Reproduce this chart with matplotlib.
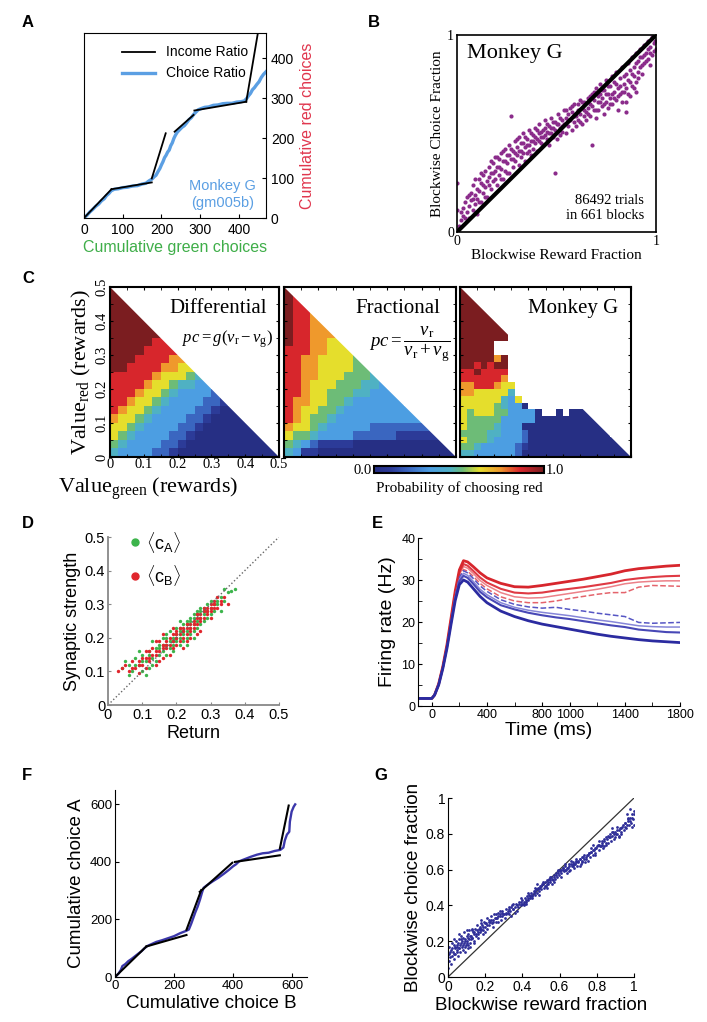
import numpy as np
import matplotlib.pyplot as plt
from matplotlib.colors import LinearSegmentedColormap, Normalize
from matplotlib.cm import ScalarMappable
from matplotlib.patches import Polygon

plt.rcParams['font.family'] = ['Liberation Sans', 'DejaVu Sans']
plt.rcParams['mathtext.fontset'] = 'custom'
plt.rcParams['mathtext.rm'] = 'Liberation Serif'
plt.rcParams['mathtext.it'] = 'Liberation Serif:italic'
plt.rcParams['mathtext.sf'] = 'Liberation Sans'
SERIF = 'Liberation Serif'

# ---------------- data ----------------
# A: income ratio segments (x pairs, y pairs) and choice ratio trace
a_income_x = [[0, 71], [71, 175], [175, 211], [234, 283], [285, 419], [419, 452]]
a_income_y = [[0, 72], [72, 89], [99, 212], [216, 258], [269, 291], [291, 480]]
a_choice = [(0, 0), (8, 7), (15, 15), (22, 21), (30, 29), (38, 35), (45, 43), (52, 48),
            (58, 56), (64, 61), (70, 68), (78, 72), (88, 73), (100, 76), (112, 77),
            (125, 80), (138, 81), (150, 85), (160, 87), (168, 93), (175, 97), (181, 103),
            (186, 107), (191, 116), (196, 124), (200, 133), (204, 141), (208, 151),
            (212, 157), (216, 165), (220, 170), (224, 181), (228, 188), (232, 199),
            (236, 207), (241, 215), (247, 221), (253, 227), (259, 231), (265, 238),
            (271, 246), (277, 251), (283, 259), (289, 265), (295, 271), (303, 274),
            (312, 277), (322, 278), (334, 282), (346, 283), (358, 286), (370, 287),
            (382, 287), (394, 290), (405, 291), (414, 293), (420, 299), (425, 306),
            (430, 312), (435, 321), (440, 326), (446, 334), (452, 341), (458, 352),
            (464, 360), (470, 366)]

# B: blockwise reward fraction vs choice fraction (Monkey G)
b_points = [
    (0.00, 0.11), (0.00, 0.25), (0.01, 0.03), (0.02, 0.06), (0.03, 0.12), (0.03, 0.08),
    (0.04, 0.15), (0.05, 0.10), (0.05, 0.18), (0.06, 0.07), (0.06, 0.13), (0.07, 0.20),
    (0.07, 0.16), (0.08, 0.11), (0.08, 0.24), (0.09, 0.19), (0.09, 0.14), (0.10, 0.22),
    (0.10, 0.17), (0.10, 0.09), (0.11, 0.27), (0.11, 0.21), (0.12, 0.25), (0.12, 0.15),
    (0.13, 0.29), (0.13, 0.20), (0.14, 0.23), (0.14, 0.31), (0.15, 0.18), (0.15, 0.26),
    (0.16, 0.28), (0.16, 0.33), (0.17, 0.22), (0.17, 0.30), (0.18, 0.35), (0.18, 0.26),
    (0.19, 0.31), (0.19, 0.38), (0.20, 0.24), (0.20, 0.33), (0.21, 0.29), (0.21, 0.37),
    (0.22, 0.40), (0.22, 0.32), (0.23, 0.27), (0.23, 0.36), (0.24, 0.42), (0.24, 0.31),
    (0.25, 0.35), (0.25, 0.39), (0.26, 0.30), (0.26, 0.44), (0.27, 0.37), (0.27, 0.59),
    (0.28, 0.33), (0.28, 0.41), (0.29, 0.46), (0.29, 0.36), (0.30, 0.39), (0.30, 0.43),
    (0.31, 0.34), (0.31, 0.48), (0.32, 0.41), (0.32, 0.38), (0.33, 0.45), (0.33, 0.50),
    (0.34, 0.36), (0.34, 0.43), (0.35, 0.47), (0.35, 0.40), (0.36, 0.44), (0.36, 0.52),
    (0.37, 0.39), (0.37, 0.46), (0.38, 0.49), (0.38, 0.42), (0.39, 0.53), (0.39, 0.45),
    (0.40, 0.47), (0.40, 0.41), (0.41, 0.50), (0.41, 0.55), (0.42, 0.45), (0.42, 0.48),
    (0.43, 0.52), (0.43, 0.44), (0.44, 0.49), (0.44, 0.57), (0.45, 0.47), (0.45, 0.51),
    (0.46, 0.54), (0.46, 0.44), (0.47, 0.50), (0.47, 0.58), (0.48, 0.48), (0.48, 0.53),
    (0.49, 0.30), (0.49, 0.56), (0.50, 0.51), (0.50, 0.47), (0.51, 0.55), (0.51, 0.60),
    (0.52, 0.49), (0.52, 0.53), (0.53, 0.57), (0.53, 0.51), (0.54, 0.62), (0.54, 0.55),
    (0.55, 0.50), (0.55, 0.58), (0.56, 0.60), (0.56, 0.54), (0.57, 0.63), (0.57, 0.57),
    (0.58, 0.52), (0.58, 0.61), (0.59, 0.56), (0.59, 0.65), (0.60, 0.59), (0.60, 0.54),
    (0.61, 0.62), (0.61, 0.57), (0.62, 0.67), (0.62, 0.60), (0.63, 0.55), (0.63, 0.63),
    (0.64, 0.59), (0.64, 0.66), (0.65, 0.61), (0.65, 0.57), (0.66, 0.68), (0.66, 0.63),
    (0.67, 0.59), (0.67, 0.65), (0.68, 0.44), (0.68, 0.70), (0.69, 0.62), (0.69, 0.67),
    (0.70, 0.58), (0.70, 0.73), (0.71, 0.66), (0.71, 0.62), (0.72, 0.70), (0.72, 0.75),
    (0.73, 0.64), (0.73, 0.68), (0.74, 0.60), (0.74, 0.72), (0.75, 0.66), (0.75, 0.77),
    (0.76, 0.70), (0.76, 0.63), (0.77, 0.74), (0.77, 0.68), (0.78, 0.79), (0.78, 0.65),
    (0.79, 0.71), (0.79, 0.76), (0.80, 0.67), (0.80, 0.81), (0.81, 0.73), (0.81, 0.62),
    (0.82, 0.78), (0.82, 0.70), (0.83, 0.84), (0.83, 0.66), (0.84, 0.75), (0.84, 0.71),
    (0.85, 0.61), (0.85, 0.80), (0.86, 0.77), (0.86, 0.86), (0.87, 0.69), (0.87, 0.82),
    (0.88, 0.74), (0.88, 0.89), (0.89, 0.79), (0.89, 0.84), (0.90, 0.76), (0.90, 0.91),
    (0.91, 0.81), (0.91, 0.87), (0.92, 0.93), (0.92, 0.84), (0.93, 0.89), (0.93, 0.80),
    (0.94, 0.95), (0.94, 0.86), (0.95, 0.91), (0.96, 0.97), (0.96, 0.88), (0.97, 0.94),
    (0.98, 0.99), (0.98, 0.90), (0.99, 0.96), (1.00, 0.93),
    (0.02, 0.10), (0.04, 0.07), (0.06, 0.19), (0.08, 0.17), (0.09, 0.27), (0.11, 0.15),
    (0.12, 0.30), (0.13, 0.24), (0.14, 0.18), (0.16, 0.24), (0.17, 0.36), (0.18, 0.30),
    (0.19, 0.27), (0.20, 0.38), (0.21, 0.33), (0.22, 0.27), (0.23, 0.41), (0.24, 0.36),
    (0.25, 0.30), (0.26, 0.39), (0.27, 0.42), (0.28, 0.37), (0.29, 0.40), (0.30, 0.47),
    (0.31, 0.41), (0.32, 0.45), (0.33, 0.40), (0.34, 0.48), (0.35, 0.44), (0.36, 0.41),
    (0.37, 0.50), (0.38, 0.46), (0.39, 0.48), (0.40, 0.52), (0.41, 0.46), (0.42, 0.51),
    (0.43, 0.48), (0.44, 0.53), (0.45, 0.55), (0.46, 0.50), (0.47, 0.53), (0.48, 0.56),
    (0.49, 0.52), (0.50, 0.55), (0.52, 0.58), (0.53, 0.54), (0.55, 0.62), (0.56, 0.57),
    (0.58, 0.64), (0.59, 0.59), (0.61, 0.65), (0.62, 0.56), (0.63, 0.66), (0.64, 0.62),
    (0.66, 0.60), (0.67, 0.69), (0.68, 0.64), (0.69, 0.71), (0.70, 0.62), (0.71, 0.69),
    (0.72, 0.66), (0.73, 0.72), (0.74, 0.65), (0.75, 0.70), (0.76, 0.74), (0.77, 0.65),
    (0.78, 0.70), (0.79, 0.68), (0.80, 0.75), (0.81, 0.69), (0.82, 0.74), (0.83, 0.71),
    (0.84, 0.79), (0.85, 0.73), (0.86, 0.70), (0.87, 0.76), (0.88, 0.80), (0.89, 0.73),
    (0.90, 0.86), (0.91, 0.78), (0.92, 0.89), (0.93, 0.85), (0.94, 0.90), (0.95, 0.87),
    (0.96, 0.93), (0.97, 0.91), (0.99, 0.92), (0.995, 0.97), (0.97, 0.85), (0.90, 0.71),
    (0.85, 0.66)]

# C: choice probability grids, one digit per cell (index into c_levels), '.' = no data
c_levels = [0.0, 0.1, 0.2, 0.33, 0.45, 0.52, 0.62, 0.74, 0.86, 1.0]
c_differential = [
    "9", "99", "999", "9999", "99999", "999999", "9999988", "99998888",
    "999888877", "9988887766", "88888766654", "888876654433", "8887665433332",
    "88766543333221", "876654333322100", "7665433332210000", "66543333221000000",
    "654333322100000000", "5433332210000000000", "43333221000000000000"]
c_fractional = [
    "9", "98", "988", "9887", "98877", "988777", "9887766", "88877666",
    "887766665", "8877666655", "88776665554", "887666555443", "8876655544333",
    "87766554333333", "876655433333333", "8765543333333333", "76654333332222222",
    "655433332222211111", "5432111100000000000", "43110000000000000000"]
c_monkey = [
    "9", "99", "999", "9999", "99999", "999999", "9999999", "9999999.",
    "99999....", "99999.....", "9999979....", "9989899.....", "8898888......",
    "8888887.......", "77888766.......", "77666664........", "666666436........",
    "6666654330........", "656665533330..0.000", "65555533333000000000",
    "655554333000000000000", "5555443332000000000000", "65554333320000000000000",
    "554333332100000000000000", "4433333320000000000000000"]

# D: return vs synaptic strength
d_green = [
    (0.04, 0.11), (0.06, 0.12), (0.07, 0.10), (0.08, 0.14), (0.09, 0.12), (0.10, 0.10),
    (0.10, 0.15), (0.11, 0.13), (0.12, 0.16), (0.12, 0.11), (0.13, 0.14), (0.14, 0.17),
    (0.14, 0.13), (0.15, 0.18), (0.15, 0.15), (0.16, 0.20), (0.16, 0.16), (0.17, 0.18),
    (0.17, 0.15), (0.18, 0.19), (0.18, 0.22), (0.18, 0.17), (0.19, 0.20), (0.19, 0.18),
    (0.20, 0.21), (0.20, 0.19), (0.20, 0.23), (0.21, 0.20), (0.21, 0.22), (0.21, 0.18),
    (0.22, 0.21), (0.22, 0.24), (0.22, 0.19), (0.23, 0.22), (0.23, 0.20), (0.23, 0.25),
    (0.24, 0.23), (0.24, 0.21), (0.24, 0.26), (0.25, 0.24), (0.25, 0.22), (0.25, 0.27),
    (0.26, 0.25), (0.26, 0.23), (0.26, 0.28), (0.27, 0.26), (0.27, 0.24), (0.28, 0.27),
    (0.28, 0.25), (0.28, 0.29), (0.29, 0.28), (0.29, 0.26), (0.30, 0.29), (0.30, 0.27),
    (0.31, 0.30), (0.31, 0.28), (0.32, 0.30), (0.33, 0.28), (0.34, 0.31), (0.36, 0.34),
    (0.37, 0.345), (0.17, 0.21), (0.19, 0.16), (0.21, 0.25), (0.23, 0.18), (0.25, 0.20),
    (0.27, 0.29), (0.13, 0.19), (0.11, 0.09), (0.09, 0.16), (0.05, 0.13), (0.35, 0.335),
    (0.06, 0.09), (0.08, 0.12), (0.10, 0.13), (0.12, 0.15), (0.13, 0.12), (0.15, 0.17),
    (0.16, 0.18), (0.17, 0.20), (0.19, 0.19), (0.20, 0.20), (0.21, 0.23), (0.22, 0.22),
    (0.23, 0.24), (0.24, 0.25), (0.25, 0.26), (0.26, 0.27), (0.27, 0.28), (0.28, 0.28),
    (0.29, 0.30), (0.30, 0.31), (0.32, 0.31), (0.33, 0.32), (0.34, 0.345)]
d_red = [
    (0.03, 0.10), (0.05, 0.12), (0.07, 0.13), (0.08, 0.11), (0.09, 0.13), (0.10, 0.14),
    (0.10, 0.12), (0.11, 0.16), (0.12, 0.14), (0.12, 0.13), (0.13, 0.15), (0.13, 0.17),
    (0.14, 0.15), (0.14, 0.19), (0.15, 0.16), (0.15, 0.13), (0.16, 0.18), (0.16, 0.14),
    (0.17, 0.19), (0.17, 0.17), (0.18, 0.18), (0.18, 0.20), (0.19, 0.21), (0.19, 0.17),
    (0.20, 0.20), (0.20, 0.18), (0.20, 0.22), (0.21, 0.21), (0.21, 0.19), (0.22, 0.22),
    (0.22, 0.20), (0.22, 0.17), (0.23, 0.23), (0.23, 0.21), (0.24, 0.22), (0.24, 0.24),
    (0.24, 0.20), (0.25, 0.25), (0.25, 0.23), (0.26, 0.26), (0.26, 0.24), (0.26, 0.21),
    (0.27, 0.27), (0.27, 0.25), (0.28, 0.26), (0.28, 0.28), (0.29, 0.29), (0.29, 0.27),
    (0.30, 0.30), (0.30, 0.28), (0.30, 0.26), (0.31, 0.29), (0.31, 0.31), (0.32, 0.32),
    (0.32, 0.29), (0.33, 0.31), (0.35, 0.30), (0.06, 0.10), (0.11, 0.11), (0.16, 0.21),
    (0.18, 0.15), (0.23, 0.19), (0.09, 0.095), (0.14, 0.12), (0.27, 0.22), (0.19, 0.23),
    (0.04, 0.11), (0.07, 0.11), (0.09, 0.12), (0.11, 0.14), (0.12, 0.16), (0.14, 0.16),
    (0.15, 0.19), (0.16, 0.17), (0.17, 0.18), (0.19, 0.19), (0.20, 0.21), (0.21, 0.23),
    (0.22, 0.23), (0.23, 0.24), (0.24, 0.23), (0.25, 0.24), (0.26, 0.27), (0.27, 0.26),
    (0.28, 0.29), (0.29, 0.28), (0.30, 0.29), (0.31, 0.30), (0.33, 0.30), (0.34, 0.32)]

# E: firing rates (Hz) over time (ms)
e_time = [-100, 0, 20, 50, 80, 110, 140, 170, 200, 230, 260, 300, 350, 400, 500, 600,
          700, 800, 900, 1000, 1100, 1200, 1300, 1400, 1500, 1600, 1700, 1800]
e_red_thick = [1.8, 1.8, 2.6, 5.3, 9.4, 14.6, 21.0, 27.4, 32.4, 34.6, 34.3, 33.2, 31.7, 30.5,
               29.2, 28.4, 28.3, 28.7, 29.2, 29.7, 30.2, 30.8, 31.4, 32.2, 32.7, 33.0, 33.3, 33.5]
e_red_mid = [1.8, 1.8, 2.6, 5.3, 9.3, 14.4, 20.7, 27.0, 31.8, 33.8, 33.4, 32.2, 30.6, 29.4,
             27.9, 27.0, 26.8, 27.0, 27.5, 27.9, 28.3, 28.8, 29.3, 30.0, 30.4, 30.7, 30.9, 31.0]
e_red_light = [1.8, 1.8, 2.6, 5.2, 9.2, 14.3, 20.5, 26.7, 31.3, 33.2, 32.8, 31.6, 29.9, 28.7,
               27.0, 26.0, 25.7, 25.8, 26.3, 26.8, 27.3, 27.8, 28.4, 29.1, 29.5, 29.7, 29.8, 29.8]
e_red_dash = [1.8, 1.8, 2.6, 5.2, 9.2, 14.2, 20.3, 26.4, 30.8, 32.5, 32.1, 30.9, 29.2, 27.9,
              26.0, 25.0, 24.6, 24.6, 25.0, 25.6, 26.1, 26.6, 27.0, 27.0, 28.3, 28.7, 28.6, 28.5]
e_blue_dash = [1.8, 1.8, 2.6, 5.2, 9.1, 14.1, 20.2, 26.2, 30.6, 32.2, 31.7, 30.4, 28.6, 27.3,
               25.3, 24.2, 23.6, 23.3, 23.5, 23.0, 22.6, 22.1, 21.7, 21.3, 19.9, 19.7, 19.8, 19.9]
e_blue_light = [1.8, 1.8, 2.6, 5.1, 9.0, 14.0, 20.0, 25.9, 30.1, 31.6, 31.1, 29.7, 27.8, 26.5,
                24.6, 23.5, 22.8, 22.3, 21.9, 21.5, 21.0, 20.5, 20.1, 19.6, 19.1, 18.9, 18.8, 18.8]
e_blue_mid = [1.8, 1.8, 2.6, 5.1, 9.0, 13.9, 19.8, 25.6, 29.7, 31.0, 30.5, 29.1, 27.2, 25.9,
              24.0, 23.0, 22.2, 21.6, 21.1, 20.7, 20.2, 19.7, 19.2, 18.8, 18.2, 17.9, 17.6, 17.5]
e_blue_thick = [1.8, 1.8, 2.6, 5.0, 8.9, 13.7, 19.5, 25.1, 28.9, 30.0, 29.5, 28.0, 26.1, 24.6,
                22.6, 21.3, 20.3, 19.5, 18.9, 18.3, 17.7, 17.1, 16.6, 16.2, 15.8, 15.5, 15.3, 15.1]

# F: model cumulative choices
f_income_x = [[0, 106], [106, 242], [242, 292], [287, 397], [406, 558], [558, 588]]
f_income_y = [[0, 106], [106, 146], [164, 302], [296, 397], [400, 423], [446, 596]]
f_choice = [(0, 0), (12, 12), (20, 25), (25, 38), (35, 45), (45, 55), (55, 62), (65, 70),
            (75, 78), (90, 90), (100, 100), (110, 108), (125, 115), (140, 122), (160, 128),
            (180, 135), (200, 142), (220, 152), (240, 160), (250, 165), (258, 185),
            (265, 205), (272, 225), (280, 245), (288, 270), (295, 295), (300, 310),
            (310, 318), (330, 332), (350, 345), (370, 360), (385, 372), (400, 385),
            (410, 392), (420, 402), (440, 410), (460, 418), (480, 425), (500, 430),
            (520, 432), (540, 438), (560, 442), (570, 450), (575, 475), (582, 495),
            (590, 505), (592, 540), (598, 575), (605, 592), (610, 600)]

# G: model blockwise fractions
g_points = [
    (0.002, 0.05), (0.004, 0.13), (0.006, 0.09), (0.008, 0.17), (0.012, 0.11), (0.015, 0.07),
    (0.018, 0.15), (0.021, 0.19), (0.024, 0.12), (0.027, 0.14), (0.031, 0.18), (0.034, 0.10),
    (0.037, 0.16), (0.040, 0.13), (0.043, 0.20), (0.046, 0.15), (0.049, 0.17), (0.052, 0.12),
    (0.055, 0.19), (0.058, 0.16), (0.061, 0.21), (0.064, 0.14), (0.067, 0.18), (0.070, 0.23),
    (0.073, 0.17), (0.076, 0.20), (0.079, 0.15), (0.082, 0.22), (0.085, 0.19), (0.088, 0.25),
    (0.091, 0.17), (0.094, 0.21), (0.097, 0.18), (0.100, 0.23), (0.103, 0.20), (0.106, 0.16),
    (0.109, 0.24), (0.112, 0.21), (0.115, 0.26), (0.118, 0.19), (0.121, 0.23), (0.124, 0.21),
    (0.127, 0.27), (0.130, 0.22), (0.134, 0.25), (0.138, 0.20), (0.142, 0.24), (0.146, 0.27),
    (0.150, 0.23), (0.154, 0.26), (0.158, 0.29), (0.162, 0.24), (0.166, 0.27), (0.170, 0.25),
    (0.175, 0.30), (0.180, 0.27), (0.185, 0.29), (0.190, 0.26), (0.195, 0.31), (0.200, 0.28),
    (0.206, 0.30), (0.212, 0.33), (0.218, 0.29), (0.224, 0.31), (0.230, 0.34), (0.236, 0.30),
    (0.242, 0.32), (0.249, 0.35), (0.256, 0.31), (0.263, 0.33), (0.270, 0.36), (0.277, 0.34),
    (0.284, 0.32), (0.291, 0.37), (0.298, 0.35), (0.305, 0.33), (0.312, 0.38), (0.320, 0.36),
    (0.328, 0.39), (0.336, 0.37), (0.344, 0.40), (0.352, 0.38), (0.360, 0.36), (0.368, 0.41),
    (0.376, 0.39), (0.384, 0.42), (0.392, 0.40), (0.400, 0.43), (0.406, 0.41), (0.412, 0.44),
    (0.418, 0.42), (0.424, 0.45), (0.430, 0.43), (0.436, 0.46), (0.442, 0.44), (0.448, 0.47),
    (0.454, 0.45), (0.460, 0.48), (0.466, 0.46), (0.472, 0.49), (0.478, 0.47), (0.484, 0.50),
    (0.490, 0.48), (0.496, 0.51), (0.502, 0.49), (0.508, 0.52), (0.514, 0.50), (0.520, 0.53),
    (0.526, 0.51), (0.532, 0.54), (0.538, 0.52), (0.544, 0.55), (0.550, 0.53), (0.556, 0.56),
    (0.562, 0.54), (0.568, 0.57), (0.574, 0.55), (0.580, 0.58), (0.586, 0.56), (0.592, 0.59),
    (0.598, 0.57), (0.604, 0.60), (0.610, 0.58), (0.616, 0.61), (0.622, 0.59), (0.628, 0.62),
    (0.634, 0.60), (0.640, 0.58), (0.646, 0.61), (0.652, 0.63), (0.658, 0.60), (0.664, 0.62),
    (0.670, 0.64), (0.676, 0.61), (0.682, 0.63), (0.688, 0.65), (0.694, 0.62), (0.700, 0.64),
    (0.707, 0.66), (0.714, 0.63), (0.721, 0.65), (0.728, 0.67), (0.735, 0.64), (0.742, 0.66),
    (0.749, 0.68), (0.756, 0.69), (0.763, 0.67), (0.770, 0.70), (0.777, 0.68), (0.784, 0.71),
    (0.791, 0.69), (0.798, 0.72), (0.805, 0.74), (0.812, 0.71), (0.819, 0.73), (0.826, 0.75),
    (0.833, 0.72), (0.840, 0.76), (0.847, 0.74), (0.854, 0.77), (0.861, 0.75), (0.868, 0.78),
    (0.875, 0.76), (0.882, 0.79), (0.889, 0.81), (0.896, 0.78), (0.903, 0.80), (0.910, 0.82),
    (0.917, 0.79), (0.924, 0.83), (0.931, 0.81), (0.938, 0.84), (0.945, 0.82), (0.952, 0.86),
    (0.959, 0.83), (0.966, 0.87), (0.973, 0.85), (0.980, 0.89), (0.985, 0.86), (0.990, 0.91),
    (0.994, 0.88), (0.998, 0.93), (1.000, 0.85),
    (0.05, 0.14), (0.07, 0.21), (0.09, 0.14), (0.11, 0.18), (0.13, 0.26), (0.14, 0.19),
    (0.16, 0.22), (0.17, 0.28), (0.19, 0.24), (0.21, 0.27), (0.22, 0.32), (0.24, 0.28),
    (0.26, 0.35), (0.27, 0.31), (0.29, 0.34), (0.31, 0.35), (0.33, 0.35), (0.35, 0.41),
    (0.37, 0.37), (0.39, 0.44), (0.41, 0.40), (0.43, 0.47), (0.45, 0.44), (0.47, 0.50),
    (0.49, 0.46), (0.51, 0.53), (0.53, 0.50), (0.55, 0.56), (0.57, 0.53), (0.59, 0.60),
    (0.61, 0.56), (0.63, 0.63), (0.65, 0.59), (0.67, 0.62), (0.69, 0.66), (0.71, 0.62),
    (0.73, 0.68), (0.75, 0.65), (0.77, 0.72), (0.79, 0.68), (0.81, 0.76), (0.83, 0.74),
    (0.85, 0.75), (0.87, 0.80), (0.89, 0.77), (0.91, 0.84), (0.93, 0.80), (0.95, 0.84),
    (0.97, 0.89), (0.99, 0.84), (0.10, 0.26), (0.06, 0.24), (0.03, 0.21), (0.12, 0.17),
    (0.18, 0.32), (0.20, 0.25), (0.28, 0.37), (0.34, 0.34), (0.42, 0.41), (0.48, 0.52),
    (0.56, 0.52), (0.62, 0.61), (0.66, 0.65), (0.72, 0.64), (0.78, 0.74), (0.84, 0.73),
    (0.88, 0.83), (0.92, 0.78), (0.96, 0.91), (0.98, 0.94),
    (0.01, 0.14), (0.02, 0.16), (0.03, 0.13), (0.04, 0.17), (0.05, 0.18), (0.06, 0.16),
    (0.07, 0.19), (0.08, 0.18), (0.09, 0.20), (0.10, 0.19), (0.11, 0.22), (0.12, 0.23),
    (0.13, 0.22), (0.14, 0.25), (0.15, 0.24), (0.16, 0.25), (0.17, 0.27), (0.18, 0.26),
    (0.19, 0.28), (0.20, 0.30), (0.21, 0.29), (0.22, 0.31), (0.23, 0.32), (0.24, 0.31),
    (0.25, 0.33), (0.26, 0.33), (0.27, 0.34), (0.28, 0.35), (0.29, 0.36), (0.30, 0.35),
    (0.31, 0.36), (0.32, 0.37), (0.33, 0.38), (0.34, 0.39), (0.35, 0.38), (0.36, 0.39),
    (0.37, 0.40), (0.38, 0.41), (0.39, 0.42), (0.40, 0.41), (0.41, 0.42), (0.42, 0.43),
    (0.43, 0.44), (0.44, 0.45), (0.45, 0.46), (0.46, 0.47), (0.47, 0.48), (0.48, 0.49),
    (0.49, 0.50), (0.50, 0.51), (0.51, 0.52), (0.52, 0.51), (0.53, 0.52), (0.54, 0.53),
    (0.55, 0.54), (0.56, 0.55), (0.57, 0.56), (0.58, 0.57), (0.59, 0.58), (0.60, 0.59),
    (0.61, 0.60), (0.62, 0.60), (0.63, 0.60), (0.64, 0.61), (0.65, 0.62), (0.66, 0.63),
    (0.67, 0.63), (0.68, 0.63), (0.69, 0.64), (0.70, 0.65), (0.71, 0.66), (0.72, 0.67),
    (0.73, 0.66), (0.74, 0.67), (0.75, 0.68), (0.76, 0.69), (0.77, 0.70), (0.78, 0.71),
    (0.79, 0.72), (0.80, 0.73), (0.81, 0.74), (0.82, 0.73), (0.83, 0.76), (0.84, 0.77),
    (0.85, 0.78), (0.86, 0.79), (0.87, 0.78), (0.88, 0.81), (0.89, 0.80), (0.90, 0.81),
    (0.91, 0.80), (0.92, 0.82), (0.93, 0.83), (0.94, 0.85), (0.95, 0.86), (0.96, 0.85),
    (0.97, 0.88), (0.98, 0.87), (0.99, 0.89), (1.00, 0.91)]

# ---------------- figure ----------------
W, H = 707, 1022
fig = plt.figure(figsize=(W / 100, H / 100), dpi=100)


def rect(x0, y0, x1, y1):
    return [x0 / W, 1 - y1 / H, (x1 - x0) / W, (y1 - y0) / H]


def label(x, y, s):
    fig.text(x / W, 1 - y / H, s, fontsize=12, fontweight='bold', va='center', ha='left')


# ---- A ----
ax = fig.add_axes(rect(84, 33, 266, 218))
cx, cy = np.array(a_choice).T
ax.plot(cx, cy, color='#5b9fe3', lw=2.4, label='Choice Ratio', zorder=2)
for k, (xs, ys) in enumerate(zip(a_income_x, a_income_y)):
    ax.plot(xs, ys, color='black', lw=1.3, zorder=3, label='Income Ratio' if k == 0 else None)
ax.set_xlim(0, 470)
ax.set_ylim(0, 463)
ax.set_xticks([0, 100, 200, 300, 400])
ax.set_yticks([0, 100, 200, 300, 400])
ax.yaxis.tick_right()
ax.yaxis.set_label_position('right')
ax.tick_params(direction='in', labelsize=10, length=3)
ax.set_xlabel('Cumulative green choices', color='#3fae49', fontsize=11.5, labelpad=2)
ax.set_ylabel('Cumulative red choices', color='#e0364d', fontsize=11.5, labelpad=4)
h, l = ax.get_legend_handles_labels()
ax.legend(h[::-1], l[::-1], loc='upper left', bbox_to_anchor=(0.14, 1.0), frameon=False,
          fontsize=10, handlelength=2.4, labelspacing=0.5)
ax.text(0.945, 0.045, 'Monkey G\n(gm005b)', transform=ax.transAxes, ha='right', va='bottom',
        color='#5b9fe3', fontsize=10.5, multialignment='center')
label(22, 22, 'A')

# ---- B ----
ax = fig.add_axes(rect(457, 35, 656, 232))
bx, by = np.array(b_points).T
ax.scatter(bx, by, s=9, color='#8b2c8b', linewidths=0, zorder=2)
ax.plot([0, 1], [0, 1], color='black', lw=3, zorder=3)
ax.set_xlim(0, 1)
ax.set_ylim(0, 1)
ax.set_xticks([0, 1])
ax.set_yticks([0, 1])
ax.tick_params(length=0, labelsize=10, pad=2)
for t in ax.get_xticklabels() + ax.get_yticklabels():
    t.set_fontfamily(SERIF)
ax.set_xlabel('Blockwise Reward Fraction', fontfamily=SERIF, fontsize=11, labelpad=1)
ax.set_ylabel('Blockwise Choice Fraction', fontfamily=SERIF, fontsize=11, labelpad=2)
for s in ax.spines.values():
    s.set_linewidth(1.2)
ax.text(0.05, 0.955, 'Monkey G', transform=ax.transAxes, ha='left', va='top',
        fontfamily=SERIF, fontsize=16)
ax.text(0.94, 0.05, '86492 trials\nin 661 blocks', transform=ax.transAxes, ha='right',
        va='bottom', fontfamily=SERIF, fontsize=10.5, multialignment='right')
label(368, 22, 'B')

# ---- C ----
cmap = LinearSegmentedColormap.from_list('choice', [
    (0.00, '#262f84'), (0.10, '#2c3b98'), (0.20, '#3a66c0'), (0.33, '#4c9ee2'),
    (0.45, '#4fb1c4'), (0.52, '#6bbb78'), (0.62, '#e5de2c'), (0.74, '#ef9a2c'),
    (0.86, '#d9262c'), (1.00, '#7b1d20')])


def draw_grid(ax, rows):
    n = len(rows)
    edges = np.linspace(0, 0.5, n + 1)
    z = np.full((n, n), np.nan)
    for k, row in enumerate(rows):
        i = n - 1 - k
        for j, ch in enumerate(row):
            if ch != '.':
                z[i, j] = c_levels[int(ch)]
    mesh = ax.pcolormesh(edges, edges, np.ma.masked_invalid(z), cmap=cmap, vmin=0, vmax=1,
                         shading='flat', antialiased=False, linewidth=0)
    tri = Polygon([(0, 0), (0.5, 0), (0, 0.5)], closed=True, transform=ax.transData)
    mesh.set_clip_path(tri)


c_panels = [(110, 279, c_differential), (284, 456, c_fractional), (460, 631, c_monkey)]
c_axes = []
for x0, x1, rows in c_panels:
    ax = fig.add_axes(rect(x0, 287, x1, 457))
    draw_grid(ax, rows)
    ax.set_xlim(0, 0.5)
    ax.set_ylim(0, 0.5)
    ax.set_xticks(np.arange(0, 0.51, 0.1))
    ax.set_yticks(np.arange(0, 0.51, 0.1))
    ax.set_xticks(np.arange(0.05, 0.5, 0.1), minor=True)
    ax.set_yticks(np.arange(0.05, 0.5, 0.1), minor=True)
    ax.tick_params(which='both', direction='in', length=2.5, top=True, right=True,
                   labelbottom=False, labelleft=False)
    for s in ax.spines.values():
        s.set_linewidth(1.5)
    c_axes.append(ax)

ax = c_axes[0]
ax.tick_params(labelbottom=True, labelleft=True, labelsize=10.5, pad=1)
ax.set_xticklabels(['0', '0.1', '0.2', '0.3', '0.4', '0.5'], fontfamily=SERIF)
ax.set_yticklabels(['0', '0.1', '0.2', '0.3', '0.4', '0.5'], fontfamily=SERIF,
                   rotation=90, va='center')
ax.set_ylabel(r'Value$_{\mathrm{red}}$ (rewards)', fontfamily=SERIF, fontsize=16, labelpad=2)
ax.text(0.93, 0.93, 'Differential', transform=ax.transAxes, ha='right', va='top',
        fontfamily=SERIF, fontsize=15)
ax.text(0.965, 0.69, r'$pc = g(v_{\mathrm{r}} - v_{\mathrm{g}})$', transform=ax.transAxes,
        ha='right', va='center', fontsize=12)
fig.text(148 / W, 1 - 489 / H, r'Value$_{\mathrm{green}}$ (rewards)', ha='center',
         va='center', fontfamily=SERIF, fontsize=16)

ax = c_axes[1]
ax.text(0.91, 0.93, 'Fractional', transform=ax.transAxes, ha='right', va='top',
        fontfamily=SERIF, fontsize=15)
ax.text(0.965, 0.665, r'$pc = \dfrac{v_{\mathrm{r}}}{v_{\mathrm{r}} + v_{\mathrm{g}}}$',
        transform=ax.transAxes, ha='right', va='center', fontsize=13.5)

ax = c_axes[2]
ax.text(0.925, 0.93, 'Monkey G', transform=ax.transAxes, ha='right', va='top',
        fontfamily=SERIF, fontsize=15)
label(22, 278, 'C')

cax = fig.add_axes(rect(374, 466, 544, 473))
cb = fig.colorbar(ScalarMappable(norm=Normalize(0, 1), cmap=cmap), cax=cax,
                  orientation='horizontal')
cb.set_ticks([])
cb.outline.set_linewidth(1.5)
fig.text(372 / W, 1 - 470 / H, '0.0', ha='right', va='center', fontfamily=SERIF, fontsize=10.5)
fig.text(546 / W, 1 - 470 / H, '1.0', ha='left', va='center', fontfamily=SERIF, fontsize=10.5)
fig.text(459 / W, 1 - 488 / H, 'Probability of choosing red', ha='center', va='center',
         fontfamily=SERIF, fontsize=11)

# ---- D ----
ax = fig.add_axes(rect(108, 537, 279, 705))
gx, gy = np.array(d_green).T
rx, ry = np.array(d_red).T
ax.plot([0, 0.5], [0, 0.5], ls=':', color='#666666', lw=1)
ax.scatter(gx, gy, s=6, color='#3cb44b', linewidths=0)
ax.scatter(rx, ry, s=6, color='#e0262d', linewidths=0)
ax.set_xlim(0, 0.5)
ax.set_ylim(0, 0.5)
ax.set_xticks([0, 0.1, 0.2, 0.3, 0.4, 0.5])
ax.set_yticks([0, 0.1, 0.2, 0.3, 0.4, 0.5])
ax.set_xticklabels(['0', '0.1', '0.2', '0.3', '0.4', '0.5'])
ax.set_yticklabels(['0', '0.1', '0.2', '0.3', '0.4', '0.5'])
ax.tick_params(direction='in', length=2, labelsize=10.5, color='#888888', pad=2)
for side in ['top', 'right']:
    ax.spines[side].set_visible(False)
for side in ['left', 'bottom']:
    ax.spines[side].set_color('#888888')
    ax.spines[side].set_linewidth(1.3)
ax.set_xlabel('Return', fontsize=13, labelpad=2)
ax.set_ylabel('Synaptic strength', fontsize=13, labelpad=3)
for yy, col, lab in [(0.97, '#3cb44b', r'$\langle\mathsf{c}_{\mathsf{A}}\rangle$'),
                     (0.768, '#e0262d', r'$\langle\mathsf{c}_{\mathsf{B}}\rangle$')]:
    ax.plot([0.158], [yy], 'o', color=col, ms=5, transform=ax.transAxes, clip_on=False)
    ax.text(0.225, yy, lab, transform=ax.transAxes, ha='left', va='center', fontsize=13)
label(22, 523, 'D')

# ---- E ----
ax = fig.add_axes(rect(418, 538, 680, 706))
e_series = [
    (e_red_dash, '#e4646c', 1.1, '--'), (e_red_light, '#ec8088', 1.1, '-'),
    (e_red_mid, '#df3a44', 1.5, '-'), (e_red_thick, '#d7262d', 2.0, '-'),
    (e_blue_dash, '#5656c4', 1.1, '--'), (e_blue_light, '#8686d8', 1.1, '-'),
    (e_blue_mid, '#4848b6', 1.5, '-'), (e_blue_thick, '#2b2ba0', 2.0, '-')]
for vals, col, lw, ls in e_series:
    ax.plot(e_time, vals, color=col, lw=lw, ls=ls)
ax.set_xlim(-100, 1800)
ax.set_ylim(0, 40)
ax.set_xticks([0, 400, 800, 1000, 1400, 1800])
ax.set_xticks([200, 600, 1200, 1600], minor=True)
ax.set_yticks([0, 10, 20, 30, 40])
ax.set_yticks([5, 15, 25, 35], minor=True)
ax.tick_params(which='both', direction='in', length=3, labelsize=9, pad=2)
for side in ['top', 'right']:
    ax.spines[side].set_visible(False)
ax.set_xlabel('Time (ms)', fontsize=14, labelpad=1)
ax.set_ylabel('Firing rate (Hz)', fontsize=14, labelpad=4)
label(372, 523, 'E')

# ---- F ----
ax = fig.add_axes(rect(115, 790, 307, 977))
fx, fy = np.array(f_choice).T
ax.plot(fx, fy, color='#3b37aa', lw=1.7, zorder=2)
for xs, ys in zip(f_income_x, f_income_y):
    ax.plot(xs, ys, color='black', lw=1.5, zorder=3)
ax.set_xlim(0, 650)
ax.set_ylim(0, 650)
ax.set_xticks([0, 200, 400, 600])
ax.set_yticks([0, 200, 400, 600])
ax.tick_params(direction='in', length=3, labelsize=9.5, pad=2)
for side in ['top', 'right']:
    ax.spines[side].set_visible(False)
ax.set_xlabel('Cumulative choice B', fontsize=13.5, labelpad=2)
ax.set_ylabel('Cumulative choice A', fontsize=13.5, labelpad=4)
label(22, 775, 'F')

# ---- G ----
ax = fig.add_axes(rect(448, 798, 634, 977))
px, py = np.array(g_points).T
ax.plot([0, 1], [0, 1], color='#333333', lw=0.9, zorder=1)
ax.scatter(px, py, s=4, color='#2e2e98', linewidths=0, zorder=2)
ax.set_xlim(0, 1)
ax.set_ylim(0, 1)
ax.set_xticks([0, 0.2, 0.4, 0.6, 0.8, 1])
ax.set_yticks([0, 0.2, 0.4, 0.6, 0.8, 1])
ax.set_xticklabels(['0', '0.2', '0.4', '0.6', '0.8', '1'])
ax.set_yticklabels(['0', '0.2', '0.4', '0.6', '0.8', '1'])
ax.tick_params(direction='in', length=3, labelsize=10, pad=2)
for side in ['top', 'right']:
    ax.spines[side].set_visible(False)
ax.set_xlabel('Blockwise reward fraction', fontsize=13.5, labelpad=2)
ax.set_ylabel('Blockwise choice fraction', fontsize=13.5, labelpad=3)
label(374, 775, 'G')

fig.savefig('out.png', dpi=100)
